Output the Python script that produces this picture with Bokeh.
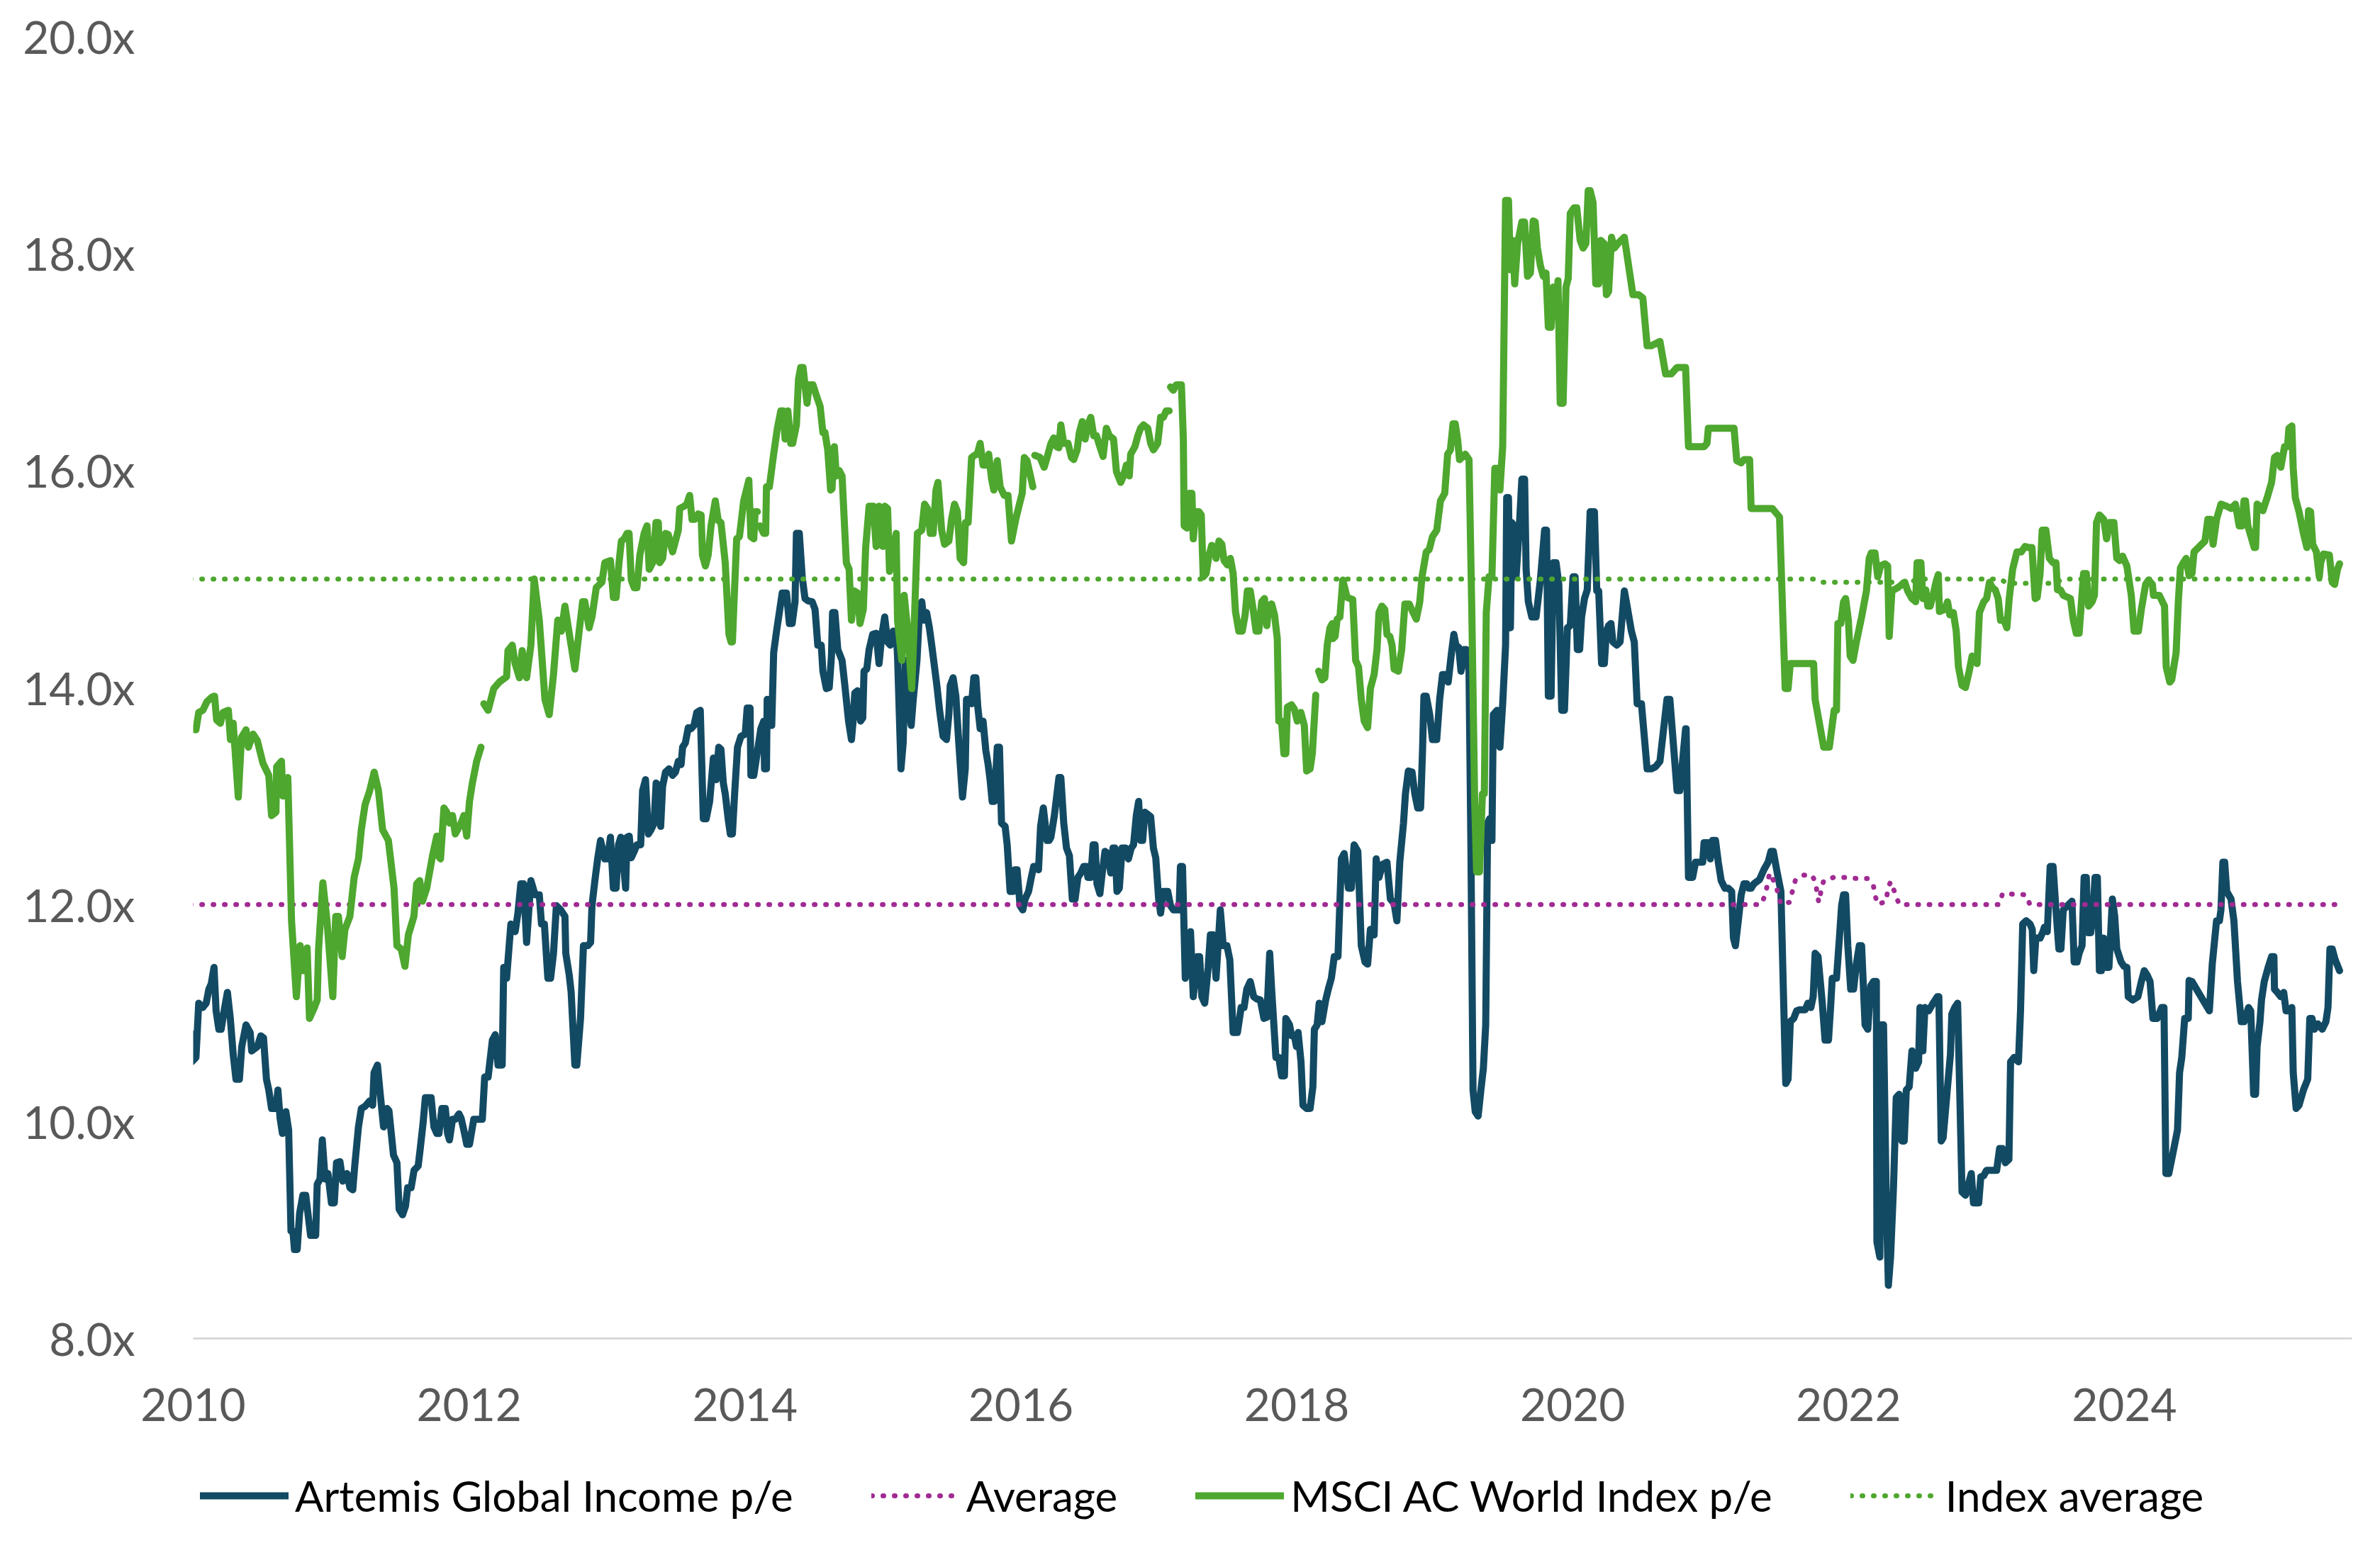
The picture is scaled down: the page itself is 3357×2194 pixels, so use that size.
import numpy as np
from bokeh.plotting import figure
from bokeh.layouts import column
from bokeh.models import FixedTicker, PrintfTickFormatter, Legend, LegendItem, Range1d
from bokeh.embed import file_html
from bokeh.resources import INLINE

nan = float("nan")

# ---------------- data (decimal years, p/e multiples) ----------------
msci_year = [
    2009.98, 2010.02, 2010.04, 2010.07, 2010.10, 2010.135, 2010.155, 2010.17, 2010.197, 2010.217,
    2010.255, 2010.27, 2010.29, 2010.327, 2010.35, 2010.383, 2010.40, 2010.434, 2010.465, 2010.506,
    2010.548, 2010.568, 2010.60, 2010.605, 2010.64, 2010.65, 2010.686, 2010.713, 2010.748, 2010.775,
    2010.796, 2010.826, 2010.843, 2010.878, 2010.899, 2010.909, 2010.94, 2010.97, 2011.012, 2011.033,
    2011.053, 2011.08, 2011.10, 2011.136, 2011.167, 2011.198, 2011.219, 2011.246, 2011.28, 2011.312,
    2011.343, 2011.373, 2011.415, 2011.456, 2011.477, 2011.508, 2011.535, 2011.56, 2011.60, 2011.62,
    2011.642, 2011.662, 2011.693, 2011.735, 2011.766, 2011.776, 2011.793, 2011.818, 2011.838, 2011.859,
    2011.88, 2011.90, 2011.942, 2011.962, 2011.983, 2012.003, 2012.024, 2012.055, 2012.086, 2012.096,
    2012.107, 2012.138, 2012.179, 2012.22, 2012.272, 2012.282, 2012.313, 2012.334, 2012.365, 2012.385,
    2012.417, 2012.448, 2012.472, 2012.509, 2012.55, 2012.581, 2012.612, 2012.643, 2012.67, 2012.695,
    2012.726, 2012.767, 2012.798, 2012.823, 2012.839, 2012.87, 2012.891, 2012.922, 2012.963, 2012.984,
    2013.025, 2013.046, 2013.066, 2013.087, 2013.104, 2013.124, 2013.145, 2013.16, 2013.176, 2013.197,
    2013.217, 2013.238, 2013.269, 2013.29, 2013.306, 2013.331, 2013.355, 2013.372, 2013.382, 2013.403,
    2013.424, 2013.444, 2013.475, 2013.496, 2013.517, 2013.527, 2013.558, 2013.578, 2013.599, 2013.616,
    2013.636, 2013.661, 2013.682, 2013.692, 2013.713, 2013.733, 2013.754, 2013.785, 2013.806, 2013.826,
    2013.857, 2013.884, 2013.899, 2013.909, 2013.925, 2013.94, 2013.96, 2013.991, 2014.028, 2014.043,
    2014.064, 2014.074, 2014.09, 2014.10, 2014.109, 2014.136, 2014.15, 2014.156, 2014.177, 2014.208,
    2014.235, 2014.26, 2014.276, 2014.291, 2014.311, 2014.332, 2014.346, 2014.373, 2014.388, 2014.404,
    2014.421, 2014.45, 2014.466, 2014.493, 2014.518, 2014.545, 2014.565, 2014.58, 2014.60, 2014.621,
    2014.631, 2014.648, 2014.662, 2014.683, 2014.704, 2014.714, 2014.735, 2014.755, 2014.772, 2014.792,
    2014.817, 2014.834, 2014.858, 2014.875, 2014.90, 2014.931, 2014.951, 2014.972, 2014.999, 2015.013,
    2015.034, 2015.048, 2015.065, 2015.096, 2015.106, 2015.137, 2015.154, 2015.178, 2015.209, 2015.23,
    2015.25, 2015.282, 2015.302, 2015.323, 2015.344, 2015.364, 2015.385, 2015.399, 2015.426, 2015.447,
    2015.478, 2015.498, 2015.519, 2015.54, 2015.56, 2015.585, 2015.598, 2015.618, 2015.643, 2015.664,
    2015.684, 2015.705, 2015.726, 2015.756, 2015.767, 2015.788, 2015.804, 2015.829, 2015.85, 2015.88,
    2015.907, 2015.932, 2015.963, 2015.99, 2016.01, 2016.025, 2016.045, 2016.087, 2016.094, 2016.101,
    2016.139, 2016.169, 2016.19, 2016.218, 2016.239, 2016.259, 2016.276, 2016.29, 2016.311, 2016.342,
    2016.367, 2016.383, 2016.408, 2016.424, 2016.445, 2016.466, 2016.486, 2016.507, 2016.528, 2016.548,
    2016.573, 2016.596, 2016.62, 2016.641, 2016.672, 2016.693, 2016.724, 2016.744, 2016.765, 2016.786,
    2016.796, 2016.827, 2016.848, 2016.868, 2016.889, 2016.92, 2016.941, 2016.961, 2016.992, 2017.013,
    2017.033, 2017.054, 2017.075, 2017.08, 2017.085, 2017.106, 2017.126, 2017.164, 2017.178, 2017.184,
    2017.205, 2017.223, 2017.24, 2017.25, 2017.267, 2017.291, 2017.308, 2017.322, 2017.343, 2017.364,
    2017.384, 2017.405, 2017.415, 2017.436, 2017.457, 2017.473, 2017.498, 2017.519, 2017.539, 2017.556,
    2017.58, 2017.605, 2017.626, 2017.642, 2017.663, 2017.684, 2017.705, 2017.725, 2017.746, 2017.766,
    2017.783, 2017.797, 2017.818, 2017.839, 2017.859, 2017.87, 2017.89, 2017.907, 2017.921, 2017.932,
    2017.962, 2017.983, 2018.004, 2018.03, 2018.055, 2018.072, 2018.097, 2018.113, 2018.138, 2018.148,
    2018.159, 2018.183, 2018.204, 2018.221, 2018.241, 2018.258, 2018.262, 2018.278, 2018.293, 2018.313,
    2018.334, 2018.365, 2018.386, 2018.406, 2018.427, 2018.448, 2018.468, 2018.489, 2018.514, 2018.534,
    2018.561, 2018.582, 2018.596, 2018.617, 2018.638, 2018.654, 2018.675, 2018.691, 2018.706, 2018.737,
    2018.761, 2018.784, 2018.815, 2018.84, 2018.867, 2018.892, 2018.908, 2018.939, 2018.96, 2018.984,
    2019.015, 2019.042, 2019.073, 2019.094, 2019.114, 2019.133, 2019.149, 2019.166, 2019.18, 2019.222,
    2019.249, 2019.269, 2019.29, 2019.304, 2019.325, 2019.346, 2019.36, 2019.374, 2019.394, 2019.415,
    2019.436, 2019.456, 2019.473, 2019.493, 2019.514, 2019.535, 2019.549, 2019.566, 2019.58, 2019.601,
    2019.632, 2019.652, 2019.673, 2019.694, 2019.714, 2019.729, 2019.745, 2019.766, 2019.787, 2019.807,
    2019.824, 2019.844, 2019.859, 2019.88, 2019.894, 2019.91, 2019.931, 2019.952, 2019.968, 2019.983,
    2020.01, 2020.03, 2020.055, 2020.076, 2020.096, 2020.113, 2020.127, 2020.148, 2020.168, 2020.189,
    2020.204, 2020.23, 2020.245, 2020.261, 2020.282, 2020.303, 2020.334, 2020.375, 2020.437, 2020.478,
    2020.509, 2020.54, 2020.571, 2020.633, 2020.674, 2020.715, 2020.757, 2020.819, 2020.84, 2020.953,
    2020.974, 2020.984, 2021.17, 2021.19, 2021.222, 2021.242, 2021.283, 2021.294, 2021.448, 2021.5,
    2021.541, 2021.562, 2021.578, 2021.747, 2021.758, 2021.82, 2021.861, 2021.896, 2021.913, 2021.923,
    2021.944, 2021.964, 2021.979, 2021.999, 2022.012, 2022.033, 2022.057, 2022.095, 2022.13, 2022.15,
    2022.165, 2022.192, 2022.212, 2022.233, 2022.264, 2022.284, 2022.295, 2022.315, 2022.357, 2022.408,
    2022.429, 2022.46, 2022.487, 2022.497, 2022.525, 2022.539, 2022.56, 2022.575, 2022.592, 2022.613,
    2022.634, 2022.651, 2022.659, 2022.697, 2022.718, 2022.734, 2022.76, 2022.781, 2022.797, 2022.823,
    2022.848, 2022.875, 2022.896, 2022.932, 2022.949, 2022.98, 2023.001, 2023.022, 2023.043, 2023.064,
    2023.085, 2023.102, 2023.127, 2023.148, 2023.165, 2023.19, 2023.221, 2023.253, 2023.28, 2023.305,
    2023.33, 2023.353, 2023.368, 2023.389, 2023.404, 2023.431, 2023.456, 2023.483, 2023.504, 2023.515,
    2023.536, 2023.557, 2023.609, 2023.63, 2023.651, 2023.672, 2023.704, 2023.724, 2023.741, 2023.766,
    2023.783, 2023.798, 2023.819, 2023.85, 2023.871, 2023.892, 2023.924, 2023.945, 2023.966, 2023.987,
    2024.018, 2024.05, 2024.07, 2024.102, 2024.123, 2024.154, 2024.175, 2024.203, 2024.211, 2024.228,
    2024.253, 2024.291, 2024.303, 2024.329, 2024.343, 2024.375, 2024.391, 2024.406, 2024.427, 2024.448,
    2024.469, 2024.49, 2024.505, 2024.584, 2024.605, 2024.626, 2024.643, 2024.668, 2024.70, 2024.742,
    2024.773, 2024.805, 2024.832, 2024.853, 2024.867, 2024.878, 2024.895, 2024.941, 2024.951, 2024.962,
    2024.983, 2025.004, 2025.035, 2025.067, 2025.088, 2025.109, 2025.134, 2025.161, 2025.182, 2025.193,
    2025.214, 2025.224, 2025.239, 2025.266, 2025.298, 2025.323, 2025.335, 2025.35, 2025.365, 2025.392,
    2025.413, 2025.423, 2025.444, 2025.486, 2025.507, 2025.524, 2025.545, 2025.56,
]
msci_pe = [
    13.62, 13.61, 13.77, 13.79, 13.87, 13.91, 13.92, 13.70, 13.67, 13.77,
    13.79, 13.52, 13.67, 12.99, 13.54, 13.61, 13.45, 13.57, 13.51, 13.30,
    13.19, 12.82, 12.85, 13.27, 13.32, 13.00, 13.17, 11.85, 11.15, 11.62,
    11.39, 11.60, 10.95, 11.05, 11.12, 11.59, 12.20, 11.85, 11.15, 11.89,
    11.89, 11.52, 11.77, 11.89, 12.25, 12.42, 12.69, 12.92, 13.05, 13.22,
    13.05, 12.69, 12.59, 12.15, 11.62, 11.59, 11.43, 11.72, 11.89, 12.19,
    12.22, 12.03, 12.15, 12.45, 12.63, 12.45, 12.42, 12.89, 12.85, 12.75,
    12.82, 12.65, 12.75, 12.82, 12.63, 12.95, 13.12, 13.32, 13.45, nan,
    13.85, 13.79, 13.99, 14.05, 14.10, 14.34, 14.39, 14.22, 14.09, 14.34,
    14.09, 14.39, 15.00, 14.62, 13.89, 13.75, 14.12, 14.62, 14.52, 14.75,
    14.50, 14.17, 14.52, 14.79, 14.79, 14.55, 14.65, 14.92, 14.97, 15.15,
    15.17, 14.83, 14.83, 15.15, 15.35, 15.37, 15.42, 15.42, 14.99, 14.92,
    14.92, 15.22, 15.42, 15.49, 15.09, 15.15, 15.52, 15.52, 15.15, 15.19,
    15.42, 15.41, 15.25, 15.35, 15.45, 15.65, 15.67, 15.69, 15.77, 15.55,
    15.55, 15.60, 15.59, 15.22, 15.12, 15.22, 15.49, 15.72, 15.54, 15.52,
    15.15, 14.49, 14.42, 14.42, 14.92, 15.37, 15.39, 15.72, 15.91, 15.39,
    15.37, 15.62, 15.62, nan, 15.49, 15.42, 15.42, 15.85, 15.85, 16.15,
    16.39, 16.55, 16.55, 16.29, 16.55, 16.25, 16.25, 16.42, 16.84, 16.95,
    16.95, 16.62, 16.79, 16.79, 16.69, 16.59, 16.35, 16.35, 16.19, 15.82,
    15.83, 16.22, 15.95, 16.00, 15.95, 15.69, 15.15, 15.09, 14.62, 14.89,
    14.87, 14.59, 14.72, 15.29, 15.67, 15.67, 15.30, 15.67, 15.30, 15.67,
    15.65, 15.07, 15.19, 15.42, 14.62, 14.25, 14.85, 14.55, 13.99, 14.69,
    15.42, 15.45, 15.69, 15.65, 15.42, 15.42, 15.82, 15.89, 15.45, 15.32,
    15.35, 15.55, 15.69, 15.62, 15.19, 15.15, 15.52, 15.52, 16.12, 16.14,
    16.15, 16.25, 16.05, 16.05, 16.15, 15.92, 15.82, 16.09, 15.85, 15.77,
    15.77, 15.35, 15.55, 15.69, 15.79, 16.12, 16.09, 15.85, nan, 16.14,
    16.12, 16.03, 16.12, 16.25, 16.30, 16.22, 16.21, 16.42, 16.25, 16.25,
    16.12, 16.10, 16.19, 16.35, 16.45, 16.29, 16.42, 16.49, 16.32, 16.32,
    16.22, 16.13, 16.39, 16.32, 16.29, 15.99, 15.89, 15.95, 16.05, 15.95,
    16.15, 16.22, 16.32, 16.39, 16.42, 16.39, 16.25, 16.19, 16.25, 16.49,
    16.49, 16.55, 16.55, nan, 16.77, 16.74, 16.79, 16.79, 16.29, 15.49,
    15.47, 15.79, 15.79, 15.37, 15.62, 15.62, 15.59, 15.02, 15.05, 15.22,
    15.31, 15.29, 15.19, 15.35, 15.32, 15.17, 15.13, 15.19, 15.05, 14.70,
    14.52, 14.52, 14.67, 14.89, 14.89, 14.72, 14.52, 14.52, 14.79, 14.82,
    14.57, 14.75, 14.77, 14.67, 14.45, 13.69, 13.69, 13.39, 13.39, 13.82,
    13.84, 13.80, 13.69, 13.77, 13.65, 13.23, 13.25, 13.39, 13.93, nan,
    14.15, 14.07, 14.09, 14.39, 14.55, 14.59, 14.45, 14.47, 14.63, 14.65,
    14.99, 14.83, 14.82, 14.81, 14.25, 14.19, 13.89, 13.69, 13.63, 13.99,
    14.12, 14.35, 14.69, 14.75, 14.72, 14.49, 14.47, 14.39, 14.17, 14.15,
    14.35, 14.77, 14.77, 14.70, 14.63, 14.79, 15.02, 15.25, 15.27, 15.39,
    15.45, 15.72, 15.79, 16.15, 16.19, 16.43, 16.43, 16.29, 16.10, 16.15,
    16.10, 14.72, 12.95, 12.30, 12.30, 13.02, 13.02, 14.69, 15.02, 15.02,
    16.02, 16.02, 15.82, 16.22, 18.49, 18.49, 17.85, 18.12, 17.72, 18.09,
    18.29, 18.29, 17.79, 17.82, 18.30, 18.29, 18.05, 17.89, 17.79, 17.82,
    17.32, 17.32, 17.69, 17.45, 17.75, 16.62, 16.62, 17.69, 17.77, 18.37,
    18.42, 18.42, 18.12, 18.05, 18.09, 18.58, 18.58, 18.47, 17.72, 17.72,
    18.12, 18.09, 17.62, 17.65, 18.15, 18.05, 18.10, 18.15, 17.62, 17.62,
    17.59, 17.15, 17.15, 17.19, 16.89, 16.89, 16.95, 16.95, 16.22, 16.22,
    16.25, 16.39, 16.39, 16.09, 16.07, 16.10, 16.10, 15.65, 15.65, 15.57,
    13.99, 13.99, 14.22, 14.22, 13.89, 13.45, 13.45, 13.79, 13.79, 14.59,
    14.59, 14.79, 14.82, 14.62, 14.29, 14.25, 14.42, 14.65, 14.89, 15.19,
    15.24, 15.24, 15.02, 15.12, 15.14, 15.12, 14.47, 14.89, 14.92, 14.97,
    14.89, 14.82, 14.79, 15.15, 15.15, 14.82, 14.90, 14.75, 14.75, 14.85,
    14.97, 15.04, 14.70, 14.72, 14.79, 14.67, 14.69, 14.52, 14.19, 14.02,
    14.00, 14.15, 14.29, 14.22, 14.69, 14.79, 14.82, 14.97, 14.92, 14.90,
    14.82, 14.62, 14.62, 14.55, 14.82, 15.09, 15.25, 15.25, 15.30, 15.29,
    15.29, 14.82, 14.83, 15.05, 15.45, 15.45, 15.19, 15.15, 15.15, 14.90,
    14.90, 14.85, 14.82, 14.62, 14.50, 14.50, 15.05, 15.05, 14.75, 14.79,
    14.85, 15.52, 15.59, 15.55, 15.37, 15.52, 15.52, 15.19, 15.17, 15.21,
    15.12, 14.85, 14.52, 14.52, 14.72, 14.95, 14.99, 14.95, 14.85, 14.85,
    14.85, 14.75, 14.19, 14.05, 14.07, 14.32, 14.79, 15.10, 15.15, 15.19,
    15.03, 15.05, 15.25, 15.35, 15.55, 15.55, 15.32, 15.55, 15.69, 15.67,
    15.65, 15.69, 15.49, 15.49, 15.72, 15.72, 15.49, 15.29, 15.29, 15.69,
    15.67, 15.63, 15.75, 15.89, 16.12, 16.14, 16.03, 16.22, 16.22, 16.39,
    16.41, 16.02, 15.75, 15.62, 15.42, 15.29, 15.63, 15.62, 15.32, 15.25,
    15.02, 15.15, 15.23, 15.22, 14.97, 14.95, 15.09, 15.14,
]

artemis_year = [
    2009.98, 2009.99, 2010.02, 2010.04, 2010.069, 2010.094, 2010.114, 2010.131, 2010.151, 2010.166,
    2010.186, 2010.203, 2010.224, 2010.248, 2010.269, 2010.29, 2010.31, 2010.335, 2010.352, 2010.383,
    2010.413, 2010.424, 2010.465, 2010.49, 2010.51, 2010.531, 2010.548, 2010.568, 2010.60, 2010.614,
    2010.63, 2010.647, 2010.672, 2010.692, 2010.709, 2010.723, 2010.734, 2010.754, 2010.771, 2010.795,
    2010.816, 2010.851, 2010.888, 2010.899, 2010.919, 2010.936, 2010.956, 2010.977, 2011.002, 2011.023,
    2011.039, 2011.064, 2011.084, 2011.115, 2011.136, 2011.157, 2011.171, 2011.198, 2011.219, 2011.246,
    2011.28, 2011.301, 2011.311, 2011.336, 2011.353, 2011.38, 2011.405, 2011.419, 2011.436, 2011.452,
    2011.477, 2011.493, 2011.518, 2011.539, 2011.555, 2011.58, 2011.601, 2011.631, 2011.646, 2011.667,
    2011.683, 2011.725, 2011.745, 2011.766, 2011.782, 2011.803, 2011.828, 2011.844, 2011.858, 2011.88,
    2011.90, 2011.927, 2011.942, 2011.962, 2011.983, 2012.003, 2012.034, 2012.065, 2012.096, 2012.113,
    2012.138, 2012.169, 2012.19, 2012.21, 2012.24, 2012.251, 2012.272, 2012.303, 2012.334, 2012.354,
    2012.375, 2012.396, 2012.417, 2012.448, 2012.478, 2012.509, 2012.525, 2012.546, 2012.571, 2012.591,
    2012.612, 2012.633, 2012.664, 2012.695, 2012.701, 2012.726, 2012.74, 2012.767, 2012.781, 2012.808,
    2012.829, 2012.86, 2012.881, 2012.891, 2012.912, 2012.932, 2012.953, 2012.984, 2013.004, 2013.025,
    2013.046, 2013.066, 2013.083, 2013.10, 2013.114, 2013.135, 2013.145, 2013.161, 2013.176, 2013.197,
    2013.217, 2013.244, 2013.258, 2013.279, 2013.30, 2013.32, 2013.341, 2013.356, 2013.372, 2013.389,
    2013.403, 2013.424, 2013.45, 2013.475, 2013.496, 2013.517, 2013.537, 2013.548, 2013.568, 2013.589,
    2013.609, 2013.63, 2013.651, 2013.676, 2013.698, 2013.719, 2013.744, 2013.771, 2013.791, 2013.81,
    2013.826, 2013.843, 2013.857, 2013.878, 2013.894, 2013.909, 2013.925, 2013.946, 2013.971, 2014.002,
    2014.016, 2014.037, 2014.043, 2014.064, 2014.095, 2014.115, 2014.136, 2014.142, 2014.156, 2014.161,
    2014.177, 2014.194, 2014.208, 2014.229, 2014.256, 2014.27, 2014.301, 2014.322, 2014.342, 2014.363,
    2014.373, 2014.394, 2014.415, 2014.435, 2014.456, 2014.487, 2014.508, 2014.528, 2014.553, 2014.565,
    2014.59, 2014.611, 2014.627, 2014.635, 2014.652, 2014.673, 2014.704, 2014.724, 2014.751, 2014.772,
    2014.786, 2014.796, 2014.817, 2014.838, 2014.854, 2014.863, 2014.883, 2014.90, 2014.926, 2014.951,
    2014.972, 2014.993, 2015.013, 2015.034, 2015.054, 2015.075, 2015.096, 2015.106, 2015.131, 2015.147,
    2015.163, 2015.185, 2015.205, 2015.22, 2015.247, 2015.267, 2015.282, 2015.296, 2015.317, 2015.337,
    2015.354, 2015.374, 2015.391, 2015.411, 2015.436, 2015.461, 2015.478, 2015.488, 2015.509, 2015.529,
    2015.55, 2015.577, 2015.597, 2015.606, 2015.622, 2015.643, 2015.659, 2015.674, 2015.688, 2015.705,
    2015.726, 2015.746, 2015.763, 2015.777, 2015.792, 2015.808, 2015.829, 2015.845, 2015.86, 2015.886,
    2015.901, 2015.922, 2015.942, 2015.957, 2015.973, 2015.994, 2016.014, 2016.031, 2016.056, 2016.076,
    2016.093, 2016.114, 2016.128, 2016.143, 2016.163, 2016.19, 2016.205, 2016.218, 2016.243, 2016.259,
    2016.276, 2016.29, 2016.311, 2016.331, 2016.352, 2016.373, 2016.393, 2016.414, 2016.435, 2016.455,
    2016.476, 2016.486, 2016.507, 2016.524, 2016.538, 2016.552, 2016.573, 2016.59, 2016.61, 2016.631,
    2016.652, 2016.668, 2016.683, 2016.697, 2016.714, 2016.734, 2016.759, 2016.78, 2016.80, 2016.817,
    2016.837, 2016.854, 2016.868, 2016.883, 2016.899, 2016.92, 2016.941, 2016.961, 2016.978, 2016.999,
    2017.013, 2017.033, 2017.065, 2017.085, 2017.106, 2017.126, 2017.147, 2017.157, 2017.172, 2017.192,
    2017.213, 2017.23, 2017.25, 2017.281, 2017.296, 2017.312, 2017.333, 2017.358, 2017.374, 2017.395,
    2017.415, 2017.446, 2017.467, 2017.494, 2017.515, 2017.539, 2017.57, 2017.597, 2017.618, 2017.638,
    2017.663, 2017.688, 2017.709, 2017.736, 2017.762, 2017.783, 2017.804, 2017.818, 2017.849, 2017.87,
    2017.89, 2017.911, 2017.921, 2017.948, 2017.963, 2017.983, 2017.998, 2018.01, 2018.031, 2018.045,
    2018.072, 2018.097, 2018.117, 2018.128, 2018.148, 2018.163, 2018.183, 2018.21, 2018.231, 2018.251,
    2018.272, 2018.299, 2018.324, 2018.344, 2018.375, 2018.396, 2018.416, 2018.443, 2018.468, 2018.495,
    2018.514, 2018.534, 2018.561, 2018.576, 2018.596, 2018.623, 2018.654, 2018.679, 2018.706, 2018.726,
    2018.747, 2018.774, 2018.788, 2018.809, 2018.836, 2018.856, 2018.877, 2018.898, 2018.912, 2018.922,
    2018.939, 2018.964, 2018.984, 2019.015, 2019.036, 2019.057, 2019.077, 2019.098, 2019.119, 2019.139,
    2019.154, 2019.174, 2019.191, 2019.211, 2019.228, 2019.249, 2019.263, 2019.278, 2019.294, 2019.315,
    2019.335, 2019.353, 2019.37, 2019.384, 2019.398, 2019.415, 2019.425, 2019.452, 2019.473, 2019.493,
    2019.514, 2019.522, 2019.535, 2019.549, 2019.559, 2019.576, 2019.59, 2019.611, 2019.632, 2019.652,
    2019.663, 2019.679, 2019.704, 2019.735, 2019.766, 2019.797, 2019.811, 2019.824, 2019.844, 2019.859,
    2019.88, 2019.90, 2019.921, 2019.941, 2019.962, 2019.983, 2020.003, 2020.018, 2020.034, 2020.051,
    2020.065, 2020.086, 2020.106, 2020.127, 2020.158, 2020.175, 2020.189, 2020.21, 2020.23, 2020.245,
    2020.261, 2020.278, 2020.292, 2020.32, 2020.344, 2020.375, 2020.395, 2020.426, 2020.447, 2020.468,
    2020.499, 2020.54, 2020.571, 2020.602, 2020.633, 2020.684, 2020.705, 2020.757, 2020.777, 2020.819,
    2020.823, 2020.84, 2020.87, 2020.891, 2020.943, 2020.953, 2020.984, 2020.998, 2021.015, 2021.036,
    2021.056, 2021.077, 2021.104, 2021.128, 2021.153, 2021.166, 2021.18, 2021.201, 2021.222, 2021.242,
    2021.263, 2021.277, 2021.294, 2021.314, 2021.355, 2021.386, 2021.417, 2021.438, 2021.455, 2021.479,
    2021.51, 2021.531, 2021.545, 2021.562, 2021.578, 2021.603, 2021.624, 2021.645, 2021.686, 2021.706,
    2021.727, 2021.744, 2021.758, 2021.779, 2021.81, 2021.83, 2021.855, 2021.872, 2021.882, 2021.913,
    2021.934, 2021.95, 2021.964, 2021.979, 2021.995, 2022.016, 2022.037, 2022.057, 2022.078, 2022.095,
    2022.12, 2022.14, 2022.161, 2022.181, 2022.202, 2022.206, 2022.227, 2022.239, 2022.254, 2022.274,
    2022.289, 2022.305, 2022.326, 2022.346, 2022.367, 2022.388, 2022.404, 2022.419, 2022.44, 2022.46,
    2022.487, 2022.508, 2022.518, 2022.539, 2022.554, 2022.581, 2022.613, 2022.644, 2022.655, 2022.672,
    2022.686, 2022.718, 2022.739, 2022.749, 2022.77, 2022.791, 2022.806, 2022.823, 2022.848, 2022.869,
    2022.89, 2022.906, 2022.944, 2022.959, 2022.98, 2023.001, 2023.022, 2023.053, 2023.074, 2023.095,
    2023.116, 2023.137, 2023.163, 2023.175, 2023.20, 2023.232, 2023.247, 2023.263, 2023.288, 2023.316,
    2023.332, 2023.343, 2023.358, 2023.389, 2023.41, 2023.42, 2023.441, 2023.462, 2023.483, 2023.504,
    2023.525, 2023.54, 2023.557, 2023.588, 2023.62, 2023.636, 2023.657, 2023.672, 2023.693, 2023.708,
    2023.724, 2023.735, 2023.756, 2023.771, 2023.787, 2023.804, 2023.819, 2023.833, 2023.85, 2023.871,
    2023.888, 2023.913, 2023.93, 2023.945, 2023.976, 2023.997, 2024.018, 2024.028, 2024.06, 2024.098,
    2024.123, 2024.144, 2024.165, 2024.186, 2024.207, 2024.238, 2024.27, 2024.287, 2024.301, 2024.322,
    2024.349, 2024.385, 2024.40, 2024.416, 2024.437, 2024.463, 2024.469, 2024.49, 2024.616, 2024.637,
    2024.658, 2024.668, 2024.689, 2024.70, 2024.714, 2024.727, 2024.742, 2024.773, 2024.794, 2024.82,
    2024.847, 2024.868, 2024.90, 2024.916, 2024.937, 2024.951, 2024.962, 2024.983, 2024.994, 2025.014,
    2025.042, 2025.067, 2025.084, 2025.088, 2025.109, 2025.134, 2025.155, 2025.172, 2025.193, 2025.214,
    2025.224, 2025.245, 2025.266, 2025.298, 2025.329, 2025.344, 2025.36, 2025.377, 2025.402, 2025.434,
    2025.461, 2025.476, 2025.49, 2025.507, 2025.528, 2025.56,
]
artemis_pe = [
    10.82, 10.55, 10.59, 11.09, 11.05, 11.09, 11.22, 11.27, 11.42, 11.02,
    10.85, 10.85, 11.02, 11.19, 10.95, 10.62, 10.39, 10.39, 10.69, 10.89,
    10.82, 10.65, 10.69, 10.79, 10.77, 10.39, 10.29, 10.12, 10.12, 10.29,
    10.03, 9.89, 10.09, 9.92, 8.99, 8.99, 8.82, 8.82, 9.15, 9.32,
    9.32, 8.95, 8.95, 9.42, 9.47, 9.83, 9.47, 9.52, 9.25, 9.25,
    9.62, 9.63, 9.45, 9.52, 9.39, 9.37, 9.59, 9.95, 10.12, 10.14,
    10.19, 10.15, 10.45, 10.52, 10.29, 9.95, 10.12, 10.10, 9.89, 9.69,
    9.62, 9.19, 9.14, 9.22, 9.39, 9.39, 9.55, 9.59, 9.75, 9.99,
    10.22, 10.22, 9.95, 9.89, 9.89, 10.12, 10.12, 9.89, 9.83, 10.02,
    10.02, 10.07, 10.03, 9.92, 9.79, 9.79, 10.02, 10.02, 10.02, 10.41,
    10.41, 10.75, 10.80, 10.52, 10.52, 11.42, 11.32, 11.82, 11.75, 11.92,
    12.19, 12.19, 11.65, 12.22, 12.09, 12.09, 11.82, 11.82, 11.32, 11.32,
    11.55, 11.99, 11.95, 11.89, 11.55, 11.35, 11.19, 10.52, 10.52, 10.95,
    11.62, 11.62, 11.65, 11.99, 12.22, 12.42, 12.59, 12.42, 12.42, 12.62,
    12.15, 12.15, 12.55, 12.62, 12.45, 12.15, 12.62, 12.63, 12.43, 12.49,
    12.55, 12.55, 13.05, 13.15, 12.65, 12.69, 12.75, 13.12, 13.10, 12.72,
    13.09, 13.22, 13.25, 13.19, 13.22, 13.32, 13.29, 13.45, 13.49, 13.63,
    13.62, 13.65, 13.77, 13.79, 12.79, 12.79, 12.95, 13.35, 13.15, 13.45,
    13.43, 13.12, 13.02, 12.79, 12.65, 12.65, 13.02, 13.45, 13.55, 13.57,
    13.81, 13.81, 13.19, 13.19, 13.45, 13.62, 13.69, 13.25, 13.25, 13.89,
    13.65, 13.65, 14.32, 14.52, 14.75, 14.87, 14.87, 14.59, 14.59, 14.79,
    15.42, 15.42, 15.02, 14.82, 14.80, 14.79, 14.72, 14.39, 14.39, 14.15,
    13.99, 14.00, 14.29, 14.69, 14.69, 14.35, 14.25, 14.02, 13.69, 13.52,
    13.72, 13.95, 13.97, 13.69, 13.72, 14.15, 14.17, 14.35, 14.49, 14.50,
    14.22, 14.49, 14.65, 14.42, 14.39, 14.52, 14.52, 14.29, 13.25, 13.49,
    14.25, 13.89, 13.65, 13.89, 14.25, 14.75, 14.79, 14.62, 14.69, 14.55,
    14.39, 14.19, 14.02, 13.79, 13.55, 13.52, 13.75, 14.02, 14.09, 13.92,
    13.49, 12.99, 13.25, 13.89, 13.89, 13.85, 14.09, 14.09, 13.82, 13.62,
    13.69, 13.42, 13.29, 13.15, 12.95, 12.95, 13.45, 13.45, 12.75, 12.72,
    12.55, 12.12, 12.12, 12.32, 12.32, 11.99, 11.95, 12.05, 12.12, 12.25,
    12.35, 12.35, 12.32, 12.72, 12.89, 12.59, 12.59, 12.62, 12.82, 12.99,
    13.17, 13.17, 12.75, 12.52, 12.45, 12.05, 12.05, 12.25, 12.29, 12.35,
    12.35, 12.25, 12.25, 12.55, 12.55, 12.19, 12.10, 12.29, 12.49, 12.47,
    12.29, 12.52, 12.52, 12.12, 12.15, 12.52, 12.52, 12.42, 12.52, 12.55,
    12.82, 12.95, 12.59, 12.59, 12.85, 12.83, 12.81, 12.52, 12.43, 12.05,
    11.92, 12.12, 12.12, 11.99, 11.95, 11.95, 11.95, 12.35, 12.35, 11.32,
    11.42, 11.75, 11.15, 11.52, 11.52, 11.15, 11.09, 11.42, 11.72, 11.72,
    11.32, 11.95, 11.62, 11.62, 11.49, 10.82, 10.82, 11.05, 11.05, 11.22,
    11.29, 11.15, 11.13, 11.12, 10.95, 10.96, 11.55, 11.22, 10.59, 10.59,
    10.42, 10.42, 10.95, 10.89, 10.79, 10.79, 10.69, 10.82, 10.55, 10.15,
    10.12, 10.12, 10.32, 10.85, 10.89, 11.09, 10.92, 11.12, 11.23, 11.32,
    11.52, 11.52, 12.42, 12.47, 12.15, 12.15, 12.55, 12.49, 11.62, 11.47,
    11.45, 11.77, 11.72, 12.42, 12.25, 12.37, 12.39, 12.05, 12.01, 11.85,
    12.39, 12.75, 13.02, 13.23, 13.22, 13.02, 12.89, 12.89, 13.42, 13.92,
    13.92, 13.75, 13.52, 13.52, 13.89, 14.12, 14.12, 14.05, 14.29, 14.49,
    14.39, 14.37, 14.15, 14.35, 14.35, 14.15, 12.49, 10.29, 10.09, 10.05,
    10.29, 10.49, 10.89, 12.75, 12.79, 12.59, 13.75, 13.79, 13.45, 13.85,
    14.39, 15.75, 15.75, 14.55, 15.52, 15.49, 15.02, 15.42, 15.92, 15.92,
    15.09, 14.79, 14.65, 14.65, 14.99, 15.45, 15.45, 13.92, 13.92, 15.15,
    15.15, 14.95, 13.79, 13.79, 14.55, 14.57, 15.02, 15.02, 14.35, 14.35,
    14.65, 14.82, 14.90, 15.62, 15.62, 14.89, 14.89, 14.22, 14.22, 14.52,
    14.57, 14.59, 14.42, 14.39, 14.42, 14.89, 14.75, 14.52, 14.42, 13.85,
    13.85, 13.25, 13.25, 13.27, 13.32, 13.89, 13.89, 13.05, 13.05, 13.62,
    13.62, 12.25, 12.25, 12.39, 12.39, 12.57, 12.57, 12.42, 12.59, 12.59,
    12.39, 12.22, 12.15, 12.15, 12.12, 11.69, 11.62, 11.85, 12.09, 12.19,
    12.19, 12.15, 12.15, 12.19, 12.23, 12.32, 12.39, 12.49, 12.49, 12.32,
    12.12, 11.05, 10.35, 10.39, 10.92, 10.95, 11.02, 11.03, 11.03, 11.09,
    11.05, 11.15, 11.55, 11.52, 11.09, 10.75, 10.75, 11.09, 11.32, 11.32,
    11.69, 11.99, 12.09, 12.09, 11.62, 11.22, 11.22, 11.45, 11.62, 11.62,
    10.89, 10.85, 11.25, 11.29, 11.29, 8.89, 8.75, 10.89, 10.89, 9.25,
    8.49, 8.75, 9.39, 10.22, 10.25, 9.82, 9.82, 10.29, 10.32, 10.65,
    10.49, 10.55, 11.05, 10.65, 11.05, 11.02, 11.09, 11.15, 11.15, 9.82,
    9.85, 10.32, 10.62, 10.99, 11.05, 11.09, 10.29, 9.35, 9.32, 9.42,
    9.52, 9.25, 9.25, 9.49, 9.50, 9.55, 9.55, 9.55, 9.55, 9.75,
    9.75, 9.62, 9.65, 10.55, 10.59, 10.55, 11.02, 11.82, 11.85, 11.82,
    11.77, 11.39, 11.69, 11.69, 11.75, 11.79, 11.75, 12.35, 12.35, 11.95,
    11.59, 11.59, 11.95, 11.99, 12.03, 11.47, 11.47, 11.55, 11.62, 12.25,
    12.25, 11.74, 11.74, 11.89, 12.25, 12.25, 11.39, 11.39, 11.69, 11.42,
    11.42, 12.05, 11.89, 11.59, 11.47, 11.43, 11.42, 11.15, 11.12, 11.15,
    11.29, 11.39, 11.35, 11.29, 10.95, 10.95, 11.05, 11.05, 9.52, 9.52,
    9.69, 9.92, 10.45, 10.59, 10.95, 10.95, 11.30, 11.29, 11.02, 11.45,
    11.72, 11.85, 11.85, 11.95, 12.39, 12.39, 12.12, 12.05, 11.85, 11.29,
    10.92, 10.92, 11.05, 11.02, 10.25, 10.25, 10.69, 10.92, 11.12, 11.29,
    11.42, 11.52, 11.52, 11.22, 11.19, 11.15, 11.19, 11.02, 11.02, 11.05,
    10.45, 10.12, 10.15, 10.29, 10.39, 10.95, 10.95, 10.85, 10.90, 10.85,
    10.92, 11.05, 11.59, 11.59, 11.49, 11.39,
]

avg_year = [2009.98, 2021.366, 2021.397, 2021.428, 2021.469, 2021.49, 2021.51, 2021.572, 2021.593,
            2021.614, 2021.665, 2021.737, 2021.764, 2021.773, 2021.785, 2021.80, 2021.82, 2021.892,
            2021.975, 2022.057, 2022.14, 2022.181, 2022.191, 2022.212, 2022.274, 2022.284, 2022.305,
            2022.336, 2022.367, 2023.095, 2023.116, 2023.284, 2023.315, 2025.56]
avg_pe = [12.0, 12.0, 12.09, 12.29, 12.19, 12.10, 12.0, 12.02, 12.12,
          12.22, 12.27, 12.27, 12.19, 12.09, 12.02, 12.12, 12.22, 12.25,
          12.25, 12.24, 12.24, 12.17, 12.09, 12.0, 12.03, 12.14, 12.21,
          12.11, 12.0, 12.0, 12.1, 12.09, 12.0, 12.0]

idx_avg_year = [2009.98, 2021.75, 2021.80, 2022.45, 2022.50, 2023.10, 2023.15, 2023.50, 2023.55, 2025.56]
idx_avg_pe = [15.0, 15.0, 14.97, 14.97, 15.0, 15.0, 14.96, 14.96, 15.0, 15.0]

series_labels = ["Artemis Global Income p/e", "Average", "MSCI AC World Index p/e", "Index average"]
x_ticks = [2010, 2012, 2014, 2016, 2018, 2020, 2022, 2024]
y_ticks = [8, 10, 12, 14, 16, 18, 20]

NAVY = "#134A63"
GREEN = "#4EA72E"
MAGENTA = "#A02B93"
FONT = "Lato"

styles = [
    dict(line_color=NAVY, line_width=10, line_join="round", line_cap="round"),
    dict(line_color=MAGENTA, line_width=7, line_dash="1 15", line_cap="round"),
    dict(line_color=GREEN, line_width=10, line_join="round", line_cap="round"),
    dict(line_color=GREEN, line_width=7, line_dash="1 15", line_cap="round"),
]

# ---------------- main chart ----------------
p = figure(width=3340, height=2038,
           x_range=Range1d(2010, 2025.65), y_range=Range1d(8, 20),
           output_backend="svg", toolbar_location=None,
           min_border_left=272, min_border_right=23,
           min_border_top=51, min_border_bottom=150)
p.outline_line_color = None
p.background_fill_color = "white"
p.border_fill_color = "white"
p.xgrid.visible = False
p.ygrid.visible = False

p.line(np.array(artemis_year), np.array(artemis_pe), **styles[0])
p.line(np.array(avg_year), np.array(avg_pe), **styles[1])
p.line(np.array(msci_year), np.array(msci_pe, dtype=float), **styles[2])
p.line(np.array(idx_avg_year), np.array(idx_avg_pe), **styles[3])

p.xaxis.ticker = FixedTicker(ticks=x_ticks)
p.xaxis.formatter = PrintfTickFormatter(format="%d")
p.yaxis.ticker = FixedTicker(ticks=y_ticks)
p.yaxis.formatter = PrintfTickFormatter(format="%.1fx")
for ax in (p.xaxis[0], p.yaxis[0]):
    ax.major_tick_line_color = None
    ax.minor_tick_line_color = None
    ax.major_label_text_font = FONT
    ax.major_label_text_font_size = "64px"
    ax.major_label_text_color = "#595959"
p.xaxis.axis_line_color = "#D9D9D9"
p.xaxis.axis_line_width = 3
p.xaxis.major_label_standoff = 64
p.yaxis.axis_line_color = None
p.yaxis.major_label_standoff = 76

# ---------------- legend strip (same styles; renderers hold no visible data) ----------------
leg = figure(width=3340, height=140, x_range=Range1d(0, 1), y_range=Range1d(0, 1),
             output_backend="svg", toolbar_location=None,
             x_axis_type=None, y_axis_type=None,
             min_border_left=272, min_border_right=23,
             min_border_top=0, min_border_bottom=0)
leg.outline_line_color = None
leg.xgrid.visible = False
leg.ygrid.visible = False
items = []
for lab, st in zip(series_labels, styles):
    r = leg.line(x=[nan], y=[nan], **st)
    items.append(LegendItem(label=lab, renderers=[r]))
legend = Legend(items=items, location="top_left", orientation="horizontal",
                glyph_width=125, glyph_height=124, label_height=124, label_standoff=9, spacing=110,
                padding=0, margin=10, border_line_color=None, background_fill_alpha=0,
                label_text_font=FONT, label_text_font_size="60px", label_text_color="black")
leg.add_layout(legend)

open("out.html", "w").write(file_html(column(p, leg), INLINE))
